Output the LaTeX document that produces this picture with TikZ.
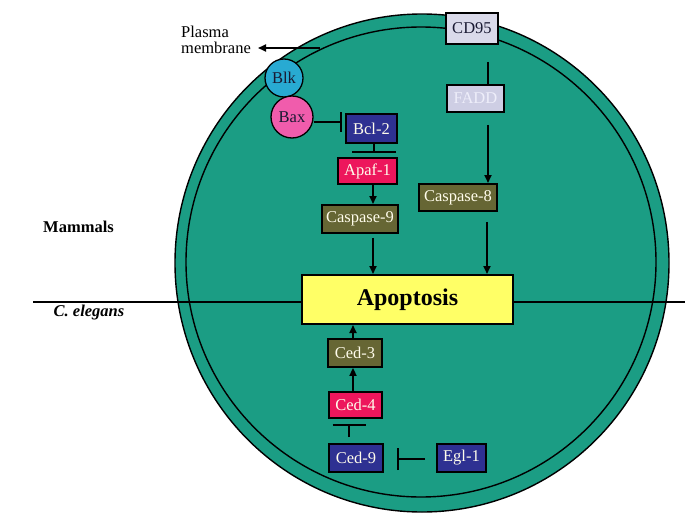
\documentclass[tikz,border=0pt]{standalone}
\usepackage{fontspec}
\setmainfont{Liberation Serif}
\usetikzlibrary{arrows.meta,calc}
\definecolor{cellteal}{RGB}{27,157,132}
\definecolor{boxblue}{RGB}{46,49,146}
\definecolor{boxolive}{RGB}{102,102,52}
\definecolor{boxred}{RGB}{237,22,92}
\definecolor{boxlav}{RGB}{218,218,234}
\definecolor{fadd}{RGB}{206,206,228}
\definecolor{faddtxt}{RGB}{238,238,250}
\definecolor{blkc}{RGB}{40,170,210}
\definecolor{baxc}{RGB}{240,92,172}
\definecolor{apoy}{RGB}{255,255,102}
\definecolor{cream}{RGB}{255,252,235}
\definecolor{darktxt}{RGB}{25,25,50}
\tikzset{
  lbl/.style={font=\fontsize{16.5}{18}\selectfont},
  pbox/.style={draw=black, line width=1.9pt, inner sep=0pt, anchor=north west, lbl, text=cream},
  pcirc/.style={draw=black, line width=1.3pt, circle, inner sep=0pt, lbl, text=darktxt},
  arr/.style={line width=1.7pt, -{Triangle[length=8pt,width=7pt]}},
  plain/.style={line width=1.7pt},
}
\newcommand{\bx}[7]{% name, x1,y1,x2,y2, fill, text
  \node[pbox, fill=#6, minimum width={#4-#2}, minimum height={#5-#3}] (#1) at (#2,#3) {#7};}
\begin{document}
\begin{tikzpicture}[x=1pt,y=-1pt]
\useasboundingbox (0,0) rectangle (685,527);
% cell
\fill[cellteal] (422,263) ellipse [x radius=247, y radius=249];
\draw[line width=1.4pt] (422,263) ellipse [x radius=247, y radius=249];
\draw[line width=1.4pt] (421,262) circle [radius=235];
% divider
\coordinate (dl) at (33,302);
\coordinate (dr) at (685,302);
\draw[line width=1.4pt] (dl) -- (dr);
% labels
\node[font=\fontsize{16.5}{18}\selectfont\bfseries] (mam) at (78.5,227) {Mammals};
\node[font=\fontsize{16.5}{18}\selectfont\bfseries\itshape] (cel) at (89,313) {C. elegans};
\node[lbl, align=left, anchor=north west, inner sep=0pt] (pm) at (181,26) {Plasma\\[-2pt]membrane};
\coordinate (pmstart) at (320,48);
\coordinate (pmend) at (258,48);
\draw[arr] (pmstart) -- (pmend);
% apoptosis
\node[draw=black, line width=2pt, fill=apoy, minimum width=211, minimum height=49, inner sep=0pt, anchor=north west, font=\fontsize{24}{26}\selectfont\bfseries] (apop) at (301,274) {Apoptosis};
% mammal boxes
\bx{bcl}{345}{113}{396}{142}{boxblue}{Bcl-2}
\bx{apaf}{337}{157}{396}{183}{boxred}{Apaf-1}
\bx{c9}{321}{204}{397}{232}{boxolive}{Caspase-9}
\node[pbox, fill=boxlav, text=darktxt, minimum width=52, minimum height=31] (cd95) at (445,12) {CD95};
\node[pbox, fill=fadd, text=faddtxt, minimum width=57, minimum height=27] (fadd) at (446,84) {FADD};
\bx{c8}{418}{183}{496}{210}{boxolive}{Caspase-8}
% worm boxes
\bx{ced3}{327}{338}{381}{366}{boxolive}{Ced-3}
\bx{ced4}{328}{391}{381}{417}{boxred}{Ced-4}
\bx{ced9}{328}{443}{382}{471}{boxblue}{Ced-9}
\bx{egl}{436}{443}{485}{471}{boxblue}{Egl-1}
% circles
\node[pcirc, fill=blkc, minimum size=38] (blk) at (284,78) {Blk};
\node[pcirc, fill=baxc, minimum size=42] (bax) at (292,117) {Bax};
% connectors mammals
\draw[plain, -{Bar[width=20pt]}, shorten >=3pt] (bax.east |- 0,122) -- (bcl.west |- 0,122);
\draw[plain, -{Bar[width=44pt]}, shorten >=4pt] (bcl.south -| 374,0) -- (apaf.north -| 374,0);
\draw[arr] (apaf.south -| 373,0) -- (c9.north -| 373,0);
\draw[arr, shorten <=4pt] (c9.south -| 373,0) -- (apop.north -| 373,0);
\draw[plain, shorten <=17pt] (cd95.south -| 488,0) -- (fadd.north -| 488,0);
\draw[arr, shorten <=12pt] (fadd.south -| 488,0) -- (c8.north -| 488,0);
\draw[arr, shorten <=10pt] (c8.south -| 487,0) -- (apop.north -| 487,0);
% connectors worm
\draw[arr] (ced3.north -| 353,0) -- (apop.south -| 353,0);
\draw[arr] (ced4.north -| 353,0) -- (ced3.south -| 353,0);
\draw[plain, -{Bar[width=33pt]}, shorten <=6pt, shorten >=5pt] (ced9.north -| 349,0) -- (ced4.south -| 349,0);
\draw[plain, -{Bar[width=22pt]}, shorten <=11pt, shorten >=13pt] (egl.west |- 0,459) -- (ced9.east |- 0,459);
\end{tikzpicture}
\end{document}
